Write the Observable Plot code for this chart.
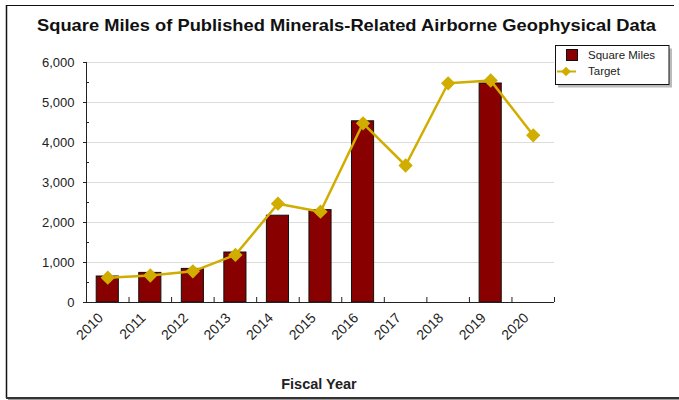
<!DOCTYPE html>
<html><head><meta charset="utf-8">
<script src="https://cdn.jsdelivr.net/npm/d3@7"></script>
<script src="https://cdn.jsdelivr.net/npm/@observablehq/plot@0.6"></script>
<style>html,body{margin:0;padding:0;background:#fff}svg{display:block}</style>
</head><body><div id="chart"></div>
<script>
const years = [2010, 2011, 2012, 2013, 2014, 2015, 2016, 2017, 2018, 2019, 2020];
const squareMiles = [650, 740, 840, 1250, 2170, 2310, 4530, null, null, 5475, null];
const target = [620, 675, 780, 1190, 2470, 2270, 4480, 3425, 5480, 5550, 4180];
const yTicks = [0, 1000, 2000, 3000, 4000, 5000, 6000];
const yMinorTicks = [500, 1500, 2500, 3500, 4500, 5500];
const seriesNames = ["Square Miles", "Target"];
const title = "Square Miles of Published Minerals-Related Airborne Geophysical Data";
const xLabel = "Fiscal Year";

const barColor = "#880000";
const gold = "#d1ad00";
const font = "'Liberation Sans', Arial, sans-serif";

const bars = years.map((y, i) => ({year: y, value: squareMiles[i]})).filter(d => d.value != null);
const targets = years.map((y, i) => ({year: y, value: target[i]}));
const boundaries = years.map(y => y + 0.5);

const plot = Plot.plot({
  width: 679, height: 400,
  marginLeft: 86, marginRight: 125, marginTop: 62, marginBottom: 98,
  style: {fontFamily: font, fontSize: "13px", color: "#222", background: "white"},
  x: {type: "linear", domain: [years[0] - 0.5, years[years.length - 1] + 0.5], axis: null},
  y: {domain: [0, 6000], axis: null},
  marks: [
    Plot.gridY(yTicks.slice(1), {stroke: "#dcdcdc", strokeOpacity: 1}),
    Plot.rectY(bars, {x1: d => d.year - 0.26, x2: d => d.year + 0.26, y1: () => 0, y2: "value", fill: barColor, stroke: "#111", strokeWidth: 1}),
    Plot.ruleY([0], {stroke: "#222"}),
    Plot.ruleX([years[0] - 0.5], {y1: 0, y2: 6000, stroke: "#222"}),
    Plot.axisY(yTicks, {tickSize: 3, tickPadding: 9, tickFormat: d3.format(","), fontSize: 13, stroke: "#222", label: null}),
    Plot.axisY(yMinorTicks, {tickSize: -3, tickFormat: () => "", stroke: "#222", label: null}),
    Plot.axisX(boundaries, {tickSize: -5, tickFormat: () => "", stroke: "#222", label: null}),
    Plot.axisX(years, {tickSize: 0, tickRotate: -45, tickPadding: 13, tickFormat: d => String(d), fontSize: 14, label: null, dx: -7}),
    Plot.line(targets, {x: "year", y: "value", stroke: gold, strokeWidth: 2.5}),
    Plot.dot(targets, {x: "year", y: "value", symbol: "diamond2", r: 5.5, fill: gold, stroke: gold})
  ]
});

const svg = d3.select(plot);
// title
svg.append("text").attr("x", 346.5).attr("y", 31).attr("text-anchor", "middle")
  .attr("font-family", font).attr("font-weight", "bold").attr("font-size", 16.5)
  .attr("fill", "#111").attr("textLength", 619).attr("lengthAdjust", "spacingAndGlyphs").text(title);
// x label
svg.append("text").attr("x", 319).attr("y", 389).attr("text-anchor", "middle")
  .attr("font-family", font).attr("font-weight", "bold").attr("font-size", 14.5)
  .attr("fill", "#222").text(xLabel);
// legend
const lg = svg.append("g");
lg.append("rect").attr("x", 558).attr("y", 48.5).attr("width", 114).attr("height", 39).attr("fill", "#bbb");
lg.append("rect").attr("x", 555.5).attr("y", 45.5).attr("width", 113.5).attr("height", 39).attr("fill", "white").attr("stroke", "#111");
lg.append("rect").attr("x", 566.5).attr("y", 49.5).attr("width", 11).attr("height", 11).attr("fill", barColor).attr("stroke", "#111");
lg.append("line").attr("x1", 557).attr("x2", 576).attr("y1", 71.5).attr("y2", 71.5).attr("stroke", gold).attr("stroke-width", 2);
lg.append("path").attr("d", d3.symbol(d3.symbolDiamond2, 60)()).attr("transform", "translate(566,71.5)").attr("fill", gold);
lg.selectAll("text.l").data(seriesNames).join("text").attr("class", "l")
  .attr("x", 588).attr("y", (d, i) => 59 + i * 16).attr("text-anchor", "start")
  .attr("font-family", font).attr("font-size", 11.5)
  .attr("fill", "#222").text(d => d);
// border
svg.append("line").attr("x1", 6).attr("x2", 674).attr("y1", 5.5).attr("y2", 5.5).attr("stroke", "#111");
svg.append("line").attr("x1", 6.5).attr("x2", 6.5).attr("y1", 5).attr("y2", 398).attr("stroke", "#111").attr("stroke-width", 1.5);
svg.append("line").attr("x1", 6).attr("x2", 679).attr("y1", 398).attr("y2", 398).attr("stroke", "#333").attr("stroke-width", 2);
svg.append("line").attr("x1", 8).attr("x2", 679).attr("y1", 399.5).attr("y2", 399.5).attr("stroke", "#999").attr("stroke-width", 1);

document.getElementById("chart").appendChild(plot);
</script>
</body></html>
